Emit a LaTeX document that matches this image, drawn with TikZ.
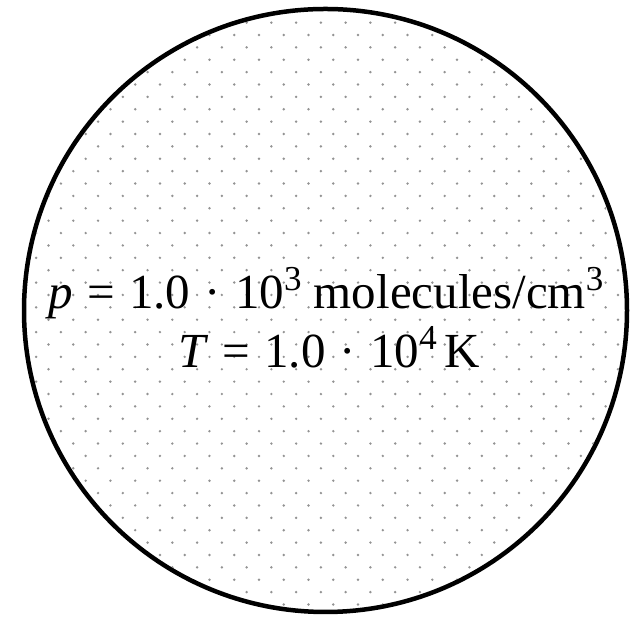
\documentclass[tikz,border=0pt]{standalone}
\usepackage{fontspec}
\setmainfont{Liberation Serif}
\newcommand{\expo}[1]{\raisebox{18pt}{\fontsize{35}{35}\selectfont #1}}
\newcommand{\op}[1]{\hspace{0.29em}#1\hspace{0.29em}}
\tikzset{
  molecule/.style={fill=gray!85},
  gastext/.style={anchor=base,inner sep=0pt,font=\fontsize{49}{59}\selectfont}
}
\begin{document}
\begin{tikzpicture}[x=1pt,y=1pt]
\useasboundingbox (0,0) rectangle (635,617);

%%%%%%%%%%% le gaz
\begin{scope}
\clip (325.5,306.5) circle(299);
\foreach \j in {0,...,49}{
  \pgfmathsetmacro{\off}{mod(\j,2)*12.38}
  \foreach \i in {0,...,25}{
    \fill[molecule] (11.4+\off+24.76*\i, 606.76-12.38*\j) circle(1.35);
  }
}
\end{scope}

% ---------------    paroi
\draw[line width=4.5pt] (325.5,306.5) circle(301.5);

% ---------------    textes
\node[gastext] (pres) at (326,308.7) {\textit{p}\op{=}1.0\op{·}10\expo{3} molecules/cm\expo{3}};
\node[gastext] (temp) at (329,249.7) {\textit{T}\op{=}1.0\op{·}10\expo{4}\hspace{0.15em}K};
\end{tikzpicture}
\end{document}
